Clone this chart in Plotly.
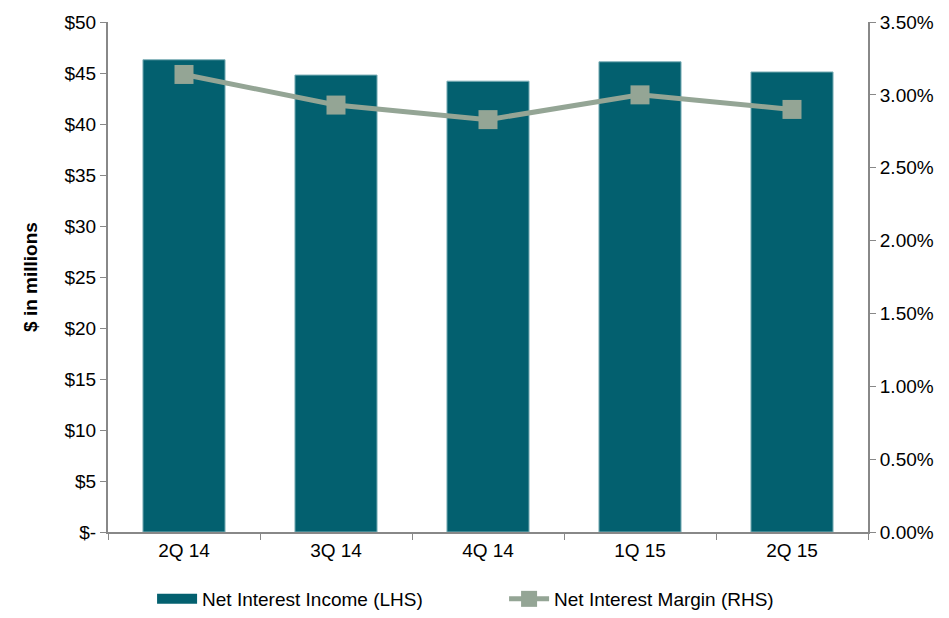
import plotly.graph_objects as go

quarters = ["2Q 14", "3Q 14", "4Q 14", "1Q 15", "2Q 15"]
nii = [46.3, 44.8, 44.2, 46.1, 45.1]
nim = [3.14, 2.93, 2.83, 3.00, 2.90]

left_ticks = [0, 5, 10, 15, 20, 25, 30, 35, 40, 45, 50]
left_labels = ["$-"] + [f"${v}" for v in left_ticks[1:]]
right_ticks = [0, 0.5, 1.0, 1.5, 2.0, 2.5, 3.0, 3.5]
right_labels = [f"{v:.2f}%" for v in right_ticks]

FAM = "Liberation Sans, Arial, sans-serif"
font = dict(family=FAM, size=19, color="#000000")
BAR = "#03606F"
LINE = "#94A595"

fig = go.Figure()
fig.add_trace(go.Bar(
    x=quarters, y=nii, name="Net Interest Income (LHS)", showlegend=False,
    marker=dict(color=BAR, line=dict(color="#7FB0B8", width=1)),
    width=0.54, yaxis="y"))
# legend proxy for the bar series (wide rectangle swatch)
fig.add_trace(go.Scatter(
    x=[None], y=[None], name="Net Interest Income (LHS)", mode="lines",
    line=dict(color=BAR, width=11), yaxis="y", hoverinfo="skip"))
fig.add_trace(go.Scatter(
    x=quarters, y=nim, name="Net Interest Margin (RHS)", mode="lines+markers",
    line=dict(color=LINE, width=5),
    marker=dict(symbol="square", size=19, color=LINE),
    yaxis="y2"))

fig.update_layout(
    width=949, height=618,
    margin=dict(l=108, r=81, t=18, b=86),
    paper_bgcolor="white", plot_bgcolor="white",
    font=font,
    showlegend=True,
    legend=dict(orientation="h", x=0.058, xanchor="left",
                y=-0.02, yanchor="bottom", yref="container",
                entrywidth=297, entrywidthmode="pixels",
                font=dict(family=FAM, size=19, color="#000000"), traceorder="normal",
                itemwidth=40, borderwidth=0, bgcolor="rgba(0,0,0,0)"),
    xaxis=dict(type="category", tickson="boundaries", ticks="outside", ticklen=6,
               tickcolor="#888888", showline=True, linecolor="#888888", linewidth=2,
               tickfont=font, showgrid=False),
    yaxis=dict(range=[0, 50], tickvals=left_ticks, ticktext=left_labels,
               ticks="outside", ticklen=6, tickcolor="#888888", showline=True,
               linecolor="#888888", linewidth=2, showgrid=False, zeroline=False,
               tickfont=font,
               title=dict(text="<b>$ in millions</b>", font=dict(family=FAM, size=19),
                          standoff=22)),
    yaxis2=dict(range=[0, 3.5], tickvals=right_ticks, ticktext=right_labels,
                overlaying="y", side="right", ticks="outside", ticklen=6,
                tickcolor="#888888", showline=True, linecolor="#888888", linewidth=2,
                showgrid=False, zeroline=False, tickfont=font),
    bargap=0.46,
)

fig.write_html("out.html")
